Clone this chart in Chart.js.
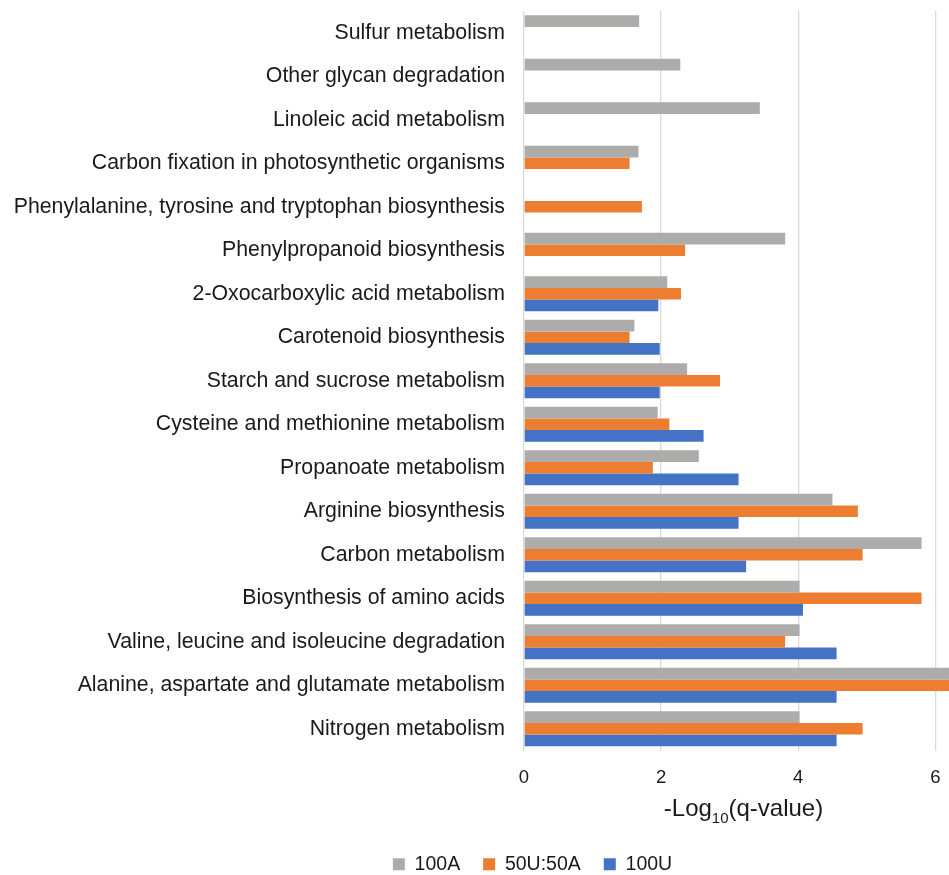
<!DOCTYPE html>
<html lang="en">
<head>
<meta charset="UTF-8">
<title>KEGG enrichment</title>
<script src="https://cdn.jsdelivr.net/npm/chart.js"></script>
<style>
  body { margin: 0; background: #fff; }
  .wrap { width: 949px; height: 875px; position: relative; }
</style>
</head>
<body>
<div class="wrap"><canvas id="chart"></canvas></div>
<script>
// pathways, top to bottom
const categories = [
  'Sulfur metabolism',
  'Other glycan degradation',
  'Linoleic acid metabolism',
  'Carbon fixation in photosynthetic organisms',
  'Phenylalanine, tyrosine and tryptophan biosynthesis',
  'Phenylpropanoid biosynthesis',
  '2-Oxocarboxylic acid metabolism',
  'Carotenoid biosynthesis',
  'Starch and sucrose metabolism',
  'Cysteine and methionine metabolism',
  'Propanoate metabolism',
  'Arginine biosynthesis',
  'Carbon metabolism',
  'Biosynthesis of amino acids',
  'Valine, leucine and isoleucine degradation',
  'Alanine, aspartate and glutamate metabolism',
  'Nitrogen metabolism'
];
const seriesNames = ['100A', '50U:50A', '100U'];
const vals100A = [1.68, 2.28, 3.44, 1.67, null, 3.81, 2.09, 1.61, 2.38, 1.95, 2.55, 4.50, 5.80, 4.02, 4.02, 6.6, 4.02];
const vals50U50A = [null, null, null, 1.54, 1.72, 2.35, 2.29, 1.54, 2.86, 2.12, 1.88, 4.87, 4.94, 5.80, 3.81, 6.6, 4.94];
const vals100U = [null, null, null, null, null, null, 1.96, 1.98, 1.98, 2.62, 3.13, 3.13, 3.24, 4.07, 4.56, 4.56, 4.56];
const xTicks = [0, 2, 4, 6];
const xMax = 6.2;

const colors = ['#aeabab', '#ed7d31', '#4472c4'];
const textColor = '#1a1a1a';
const fontFamily = "'Liberation Sans', Arial, sans-serif";

// Excel-style placement of the bottom legend
const legendShift = {
  id: 'legendShift',
  afterLayout(chart) {
    const lg = chart.legend;
    if (!lg) return;
    lg.left += 58; lg.right += 58;
    lg.top += 9; lg.bottom += 9;
  }
};

// axis title with a real subscript: -Log10(q-value)
const xTitle = {
  id: 'xTitle',
  afterDraw(chart) {
    const {ctx, chartArea} = chart;
    const parts = [['-Log', 24, 0], ['10', 15, 7], ['(q-value)', 24, 0]];
    ctx.save();
    ctx.fillStyle = textColor;
    ctx.textBaseline = 'alphabetic';
    ctx.textAlign = 'left';
    let total = 0;
    parts.forEach(p => { ctx.font = p[1] + 'px ' + fontFamily; total += ctx.measureText(p[0]).width; });
    let x = (chartArea.left + chartArea.right) / 2 + 7 - total / 2;
    const base = chart.scales.x.top + 65;
    parts.forEach(p => {
      ctx.font = p[1] + 'px ' + fontFamily;
      ctx.fillText(p[0], x, base + p[2]);
      x += ctx.measureText(p[0]).width;
    });
    ctx.restore();
  }
};

new Chart(document.getElementById('chart'), {
  type: 'bar',
  data: {
    labels: categories,
    datasets: [
      { label: seriesNames[0], data: vals100A, backgroundColor: colors[0] },
      { label: seriesNames[1], data: vals50U50A, backgroundColor: colors[1] },
      { label: seriesNames[2], data: vals100U, backgroundColor: colors[2] }
    ]
  },
  options: {
    indexAxis: 'y',
    responsive: true,
    maintainAspectRatio: false,
    animation: false,
    layout: { padding: { top: 11, right: 0, left: 0, bottom: 0 } },
    datasets: { bar: { categoryPercentage: 0.8, barPercentage: 1.0 } },
    plugins: {
      tooltip: { enabled: false },
      legend: {
        position: 'bottom',
        labels: {
          boxWidth: 12, boxHeight: 12, padding: 23,
          color: textColor,
          font: { family: fontFamily, size: 19.5 }
        }
      }
    },
    scales: {
      x: {
        min: 0, max: xMax,
        afterBuildTicks: s => { s.ticks = xTicks.map(v => ({ value: v })); },
        afterFit: s => { s.height = 72; s.paddingLeft = 0; s.paddingRight = 0; },
        grid: { color: '#d9d9d9', lineWidth: 1.3, drawTicks: false },
        border: { display: false },
        ticks: { color: textColor, padding: 16, font: { family: fontFamily, size: 18.5 } }
      },
      y: {
        afterFit: s => { s.width = 524; s.paddingTop = 0; s.paddingBottom = 0; },
        grid: { display: false, drawTicks: false },
        border: { display: false },
        ticks: { color: textColor, padding: 19, font: { family: fontFamily, size: 21.3 } }
      }
    }
  },
  plugins: [legendShift, xTitle]
});
</script>
</body>
</html>
